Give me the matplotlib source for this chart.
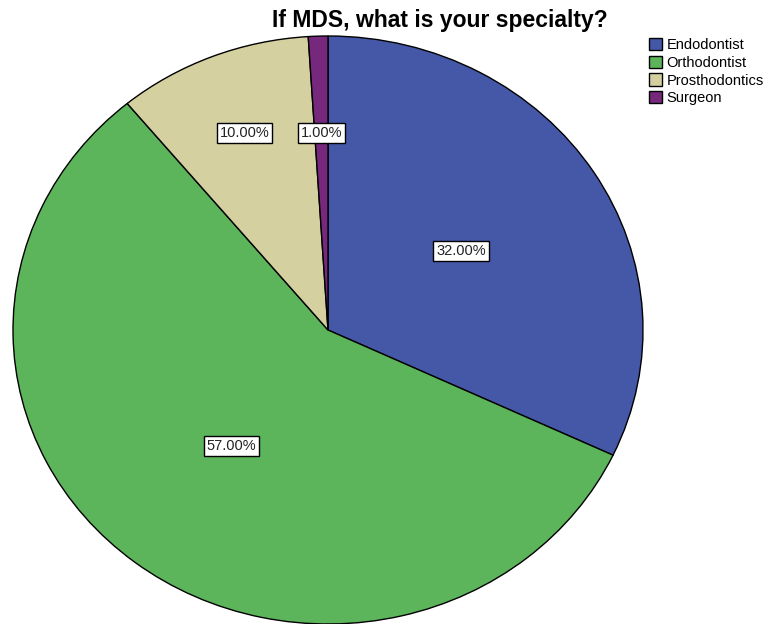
import numpy as np
import matplotlib.pyplot as plt

plt.rcParams["font.family"] = ["Liberation Sans", "DejaVu Sans"]

labels = ['Endodontist', 'Orthodontist', 'Prosthodontics', 'Surgeon']
values = [32.0, 57.0, 10.0, 1.0]
colors = ['#4558a8', '#5cb55b', '#d4d0a0', '#76297c']
title = 'If MDS, what is your specialty?'

# label radius per wedge (SPSS pushes the small ones outward)
label_r = [0.5, 0.5, 0.72, 0.67]

fig = plt.figure(figsize=(7.63, 6.24), dpi=100)
ax = fig.add_axes([13 / 763, 0.0, 630 / 763, 588 / 624])

wedges, texts = ax.pie(values, colors=colors, startangle=90, counterclock=False,
                       wedgeprops=dict(edgecolor='black', linewidth=1.0))
ax.set_aspect('auto')
ax.set_xlim(-1, 1)
ax.set_ylim(-1, 1)

for w, v, r in zip(wedges, values, label_r):
    mid = np.deg2rad((w.theta1 + w.theta2) / 2)
    ax.text(r * np.cos(mid), r * np.sin(mid), "%.2f%%" % v, ha='center', va='center',
            fontsize=10.5, color='#222222',
            bbox=dict(boxstyle='square,pad=0.2', facecolor='white', edgecolor='black', linewidth=1.0))

fig.text(440 / 763, 1 - 20 / 624, title, ha='center', va='center', fontsize=16.5, fontweight='bold')

fig.legend(wedges, labels, loc='upper left', bbox_to_anchor=(649 / 763, 1 - 38 / 624),
           frameon=False, fontsize=10.5, handlelength=0.9, handleheight=0.9,
           handletextpad=0.3, labelspacing=0.25, borderpad=0, borderaxespad=0)

fig.savefig('out.png', dpi=100)
